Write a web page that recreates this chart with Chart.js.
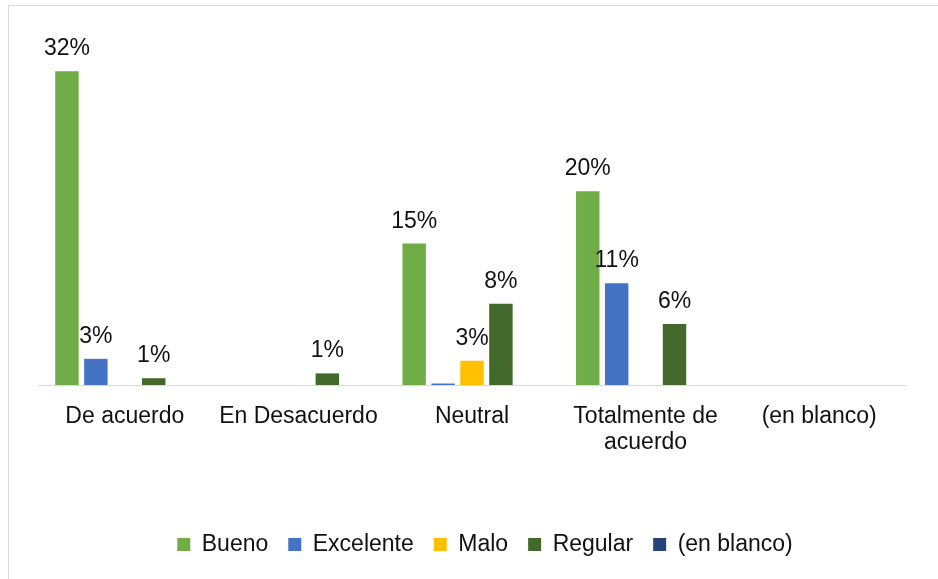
<!DOCTYPE html>
<html>
    <head>
        <script src="https://cdn.jsdelivr.net/npm/chart.js"></script>
        <style>
            html, body {
                margin: 0;
                padding: 0;
                background: #ffffff;
                overflow: hidden;
                width: 938px;
                height: 579px;
            }
            #frame {
                position: absolute;
                left: 8px;
                top: 5px;
                width: 960px;
                height: 600px;
                border-top: 1px solid #d9d9d9;
                border-left: 1px solid #d9d9d9;
            }
            #box {
                position: absolute;
                left: 9px;
                top: 6px;
                width: 951px;
                height: 580px;
            }
        </style>
    </head>
    <body>
        <div id="frame"></div>
        <div id="box">
            <canvas id="myChart"></canvas>
        </div>

        <script>
            const categories = ['De acuerdo', 'En Desacuerdo', 'Neutral', ['Totalmente de', 'acuerdo'], '(en blanco)'];
            const seriesNames = ['Bueno', 'Excelente', 'Malo', 'Regular', '(en blanco)'];
            const colors = ['#70ad47', '#4472c4', '#ffc000', '#43682b', '#264478'];

            const bueno = [32.4, 0, 14.6, 20.0, 0];
            const excelente = [2.7, 0, 0.15, 10.5, 0];
            const malo = [0, 0, 2.5, 0, 0];
            const regular = [0.7, 1.2, 8.4, 6.3, 0];
            const enBlanco = [0, 0, 0, 0, 0];

            const seriesValues = [bueno, excelente, malo, regular, enBlanco];
            const FONT = "'Liberation Sans', Arial, sans-serif";

            // draws the % labels above the bars
            const barLabels = {
                id: 'barLabels',
                afterDatasetsDraw(chart) {
                    const ctx = chart.ctx;
                    ctx.save();
                    ctx.font = '23px ' + FONT;
                    ctx.fillStyle = '#111';
                    ctx.textAlign = 'center';
                    ctx.textBaseline = 'alphabetic';
                    chart.data.datasets.forEach((ds, i) => {
                        const meta = chart.getDatasetMeta(i);
                        meta.data.forEach((bar, j) => {
                            const v = ds.data[j];
                            if (Math.round(v) < 1) return;
                            ctx.fillText(Math.round(v) + '%', bar.x, bar.y - 16);
                        });
                    });
                    ctx.restore();
                }
            };

            // nudge the legend a bit to the right, like the original
            const legendShift = {
                id: 'legendShift',
                afterLayout(chart) {
                    if (chart.legend) {
                        chart.legend.left += 13;
                        chart.legend.right += 13;
                    }
                }
            };

            const data = {
                labels: categories,
                datasets: seriesNames.map((name, i) => ({
                    label: name,
                    data: seriesValues[i],
                    backgroundColor: colors[i],
                    categoryPercentage: 0.833,
                    barPercentage: 0.81
                }))
            };

            const ctx = document.getElementById('myChart').getContext('2d');
            const myChart = new Chart(ctx, {
                type: 'bar',
                data: data,
                plugins: [barLabels, legendShift],
                options: {
                    responsive: true,
                    maintainAspectRatio: false,
                    animation: false,
                    layout: {
                        padding: { left: 29, right: 54, top: 40, bottom: 20 }
                    },
                    plugins: {
                        tooltip: { enabled: false },
                        legend: {
                            position: 'bottom',
                            labels: {
                                boxWidth: 13,
                                boxHeight: 13,
                                padding: 20,
                                color: '#111',
                                font: { family: FONT, size: 23 }
                            }
                        }
                    },
                    scales: {
                        x: {
                            grid: { display: false },
                            border: { display: true, color: '#d9d9d9', width: 1 },
                            ticks: {
                                color: '#111',
                                padding: 11,
                                maxRotation: 0,
                                autoSkip: false,
                                font: { family: FONT, size: 23, lineHeight: 1.13 }
                            },
                            afterFit: (scale) => { scale.height = 128; }
                        },
                        y: {
                            display: false,
                            min: 0,
                            max: 35
                        }
                    }
                }
            });
        </script>
    </body>
</html>
